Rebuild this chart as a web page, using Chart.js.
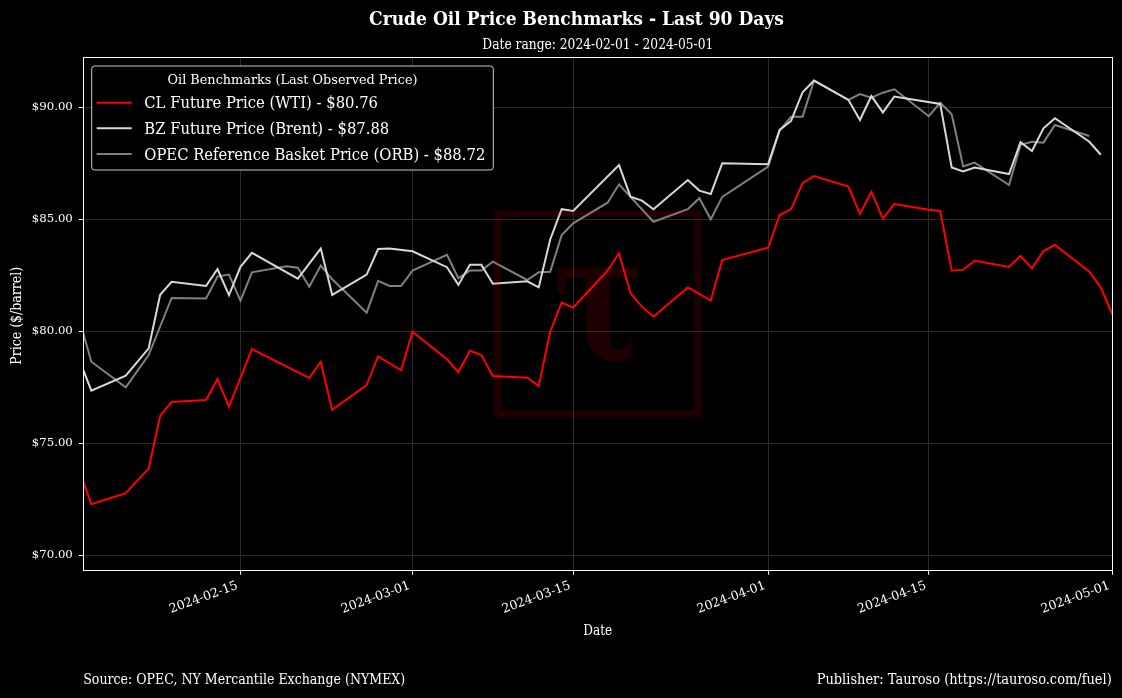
<!DOCTYPE html>
<html>
<head>
<meta charset="utf-8">
<script src="https://cdn.jsdelivr.net/npm/chart.js@4.4.1/dist/chart.umd.min.js"></script>
<style>
html,body{margin:0;padding:0;background:#000;}
canvas{display:block;}
</style>
</head>
<body>
<canvas id="c" width="1122" height="698"></canvas>
<script>
// ---------- DATA ----------
const titleText = 'Crude Oil Price Benchmarks - Last 90 Days';
const subtitleText = 'Date range: 2024-02-01 - 2024-05-01';
const legendTitle = 'Oil Benchmarks (Last Observed Price)';
const seriesNames = ['CL Future Price (WTI)', 'BZ Future Price (Brent)', 'OPEC Reference Basket Price (ORB)'];
const xAxisTitle = 'Date';
const yAxisTitle = 'Price ($/barrel)';
const footerLeft = 'Source: OPEC, NY Mercantile Exchange (NYMEX)';
const footerRight = 'Publisher: Tauroso (https://tauroso.com/fuel)';

const xTickLabels = ['2024-02-15','2024-03-01','2024-03-15','2024-04-01','2024-04-15','2024-05-01'];
const yTickValues = [70, 75, 80, 85, 90];

const wti = [
 ['2024-02-01',73.72],['2024-02-02',72.28],['2024-02-05',72.77],['2024-02-07',73.87],['2024-02-08',76.22],
 ['2024-02-09',76.84],['2024-02-12',76.93],['2024-02-13',77.87],['2024-02-14',76.63],['2024-02-16',79.20],
 ['2024-02-21',77.92],['2024-02-22',78.63],['2024-02-23',76.49],['2024-02-26',77.60],['2024-02-27',78.88],
 ['2024-02-29',78.26],['2024-03-01',79.98],['2024-03-04',78.75],['2024-03-05',78.17],['2024-03-06',79.13],
 ['2024-03-07',78.94],['2024-03-08',78.00],['2024-03-11',77.93],['2024-03-12',77.56],['2024-03-13',79.98],
 ['2024-03-14',81.28],['2024-03-15',81.05],['2024-03-18',82.71],['2024-03-19',83.48],['2024-03-20',81.70],
 ['2024-03-21',81.10],['2024-03-22',80.65],['2024-03-25',81.96],['2024-03-27',81.37],['2024-03-28',83.18],
 ['2024-04-01',83.73],['2024-04-02',85.19],['2024-04-03',85.45],['2024-04-04',86.61],['2024-04-05',86.93],
 ['2024-04-08',86.46],['2024-04-09',85.24],['2024-04-10',86.22],['2024-04-11',85.03],['2024-04-12',85.68],
 ['2024-04-15',85.42],['2024-04-16',85.37],['2024-04-17',82.71],['2024-04-18',82.74],['2024-04-19',83.15],
 ['2024-04-22',82.87],['2024-04-23',83.36],['2024-04-24',82.81],['2024-04-25',83.58],['2024-04-26',83.85],
 ['2024-04-29',82.66],['2024-04-30',81.95],['2024-05-01',80.76]
];
const brent = [
 ['2024-02-01',78.66],['2024-02-02',77.35],['2024-02-05',78.02],['2024-02-07',79.24],['2024-02-08',81.63],
 ['2024-02-09',82.21],['2024-02-12',82.02],['2024-02-13',82.78],['2024-02-14',81.61],['2024-02-15',82.88],
 ['2024-02-16',83.50],['2024-02-20',82.35],['2024-02-22',83.69],['2024-02-23',81.62],['2024-02-26',82.53],
 ['2024-02-27',83.67],['2024-02-28',83.70],['2024-03-01',83.57],['2024-03-04',82.86],['2024-03-05',82.07],
 ['2024-03-06',82.97],['2024-03-07',82.97],['2024-03-08',82.12],['2024-03-11',82.23],['2024-03-12',81.96],
 ['2024-03-13',84.10],['2024-03-14',85.45],['2024-03-15',85.37],['2024-03-19',87.42],['2024-03-20',86.01],
 ['2024-03-21',85.83],['2024-03-22',85.45],['2024-03-25',86.75],['2024-03-26',86.28],['2024-03-27',86.13],
 ['2024-03-28',87.50],['2024-04-01',87.46],['2024-04-02',88.99],['2024-04-03',89.39],['2024-04-04',90.67],
 ['2024-04-05',91.19],['2024-04-08',90.33],['2024-04-09',89.43],['2024-04-10',90.50],['2024-04-11',89.77],
 ['2024-04-12',90.48],['2024-04-16',90.15],['2024-04-17',87.31],['2024-04-18',87.14],['2024-04-19',87.31],
 ['2024-04-22',87.02],['2024-04-23',88.44],['2024-04-24',88.05],['2024-04-25',89.06],['2024-04-26',89.51],
 ['2024-04-29',88.46],['2024-04-30',87.88]
];
const orb = [
 ['2024-02-01',80.45],['2024-02-02',78.64],['2024-02-05',77.50],['2024-02-07',78.94],['2024-02-09',81.49],
 ['2024-02-12',81.46],['2024-02-13',82.44],['2024-02-14',82.53],['2024-02-15',81.37],['2024-02-16',82.63],
 ['2024-02-19',82.90],['2024-02-20',82.84],['2024-02-21',81.99],['2024-02-22',82.93],['2024-02-23',82.32],
 ['2024-02-26',80.83],['2024-02-27',82.25],['2024-02-28',82.02],['2024-02-29',82.02],['2024-03-01',82.71],
 ['2024-03-04',83.41],['2024-03-05',82.37],['2024-03-06',82.71],['2024-03-07',82.71],['2024-03-08',83.11],
 ['2024-03-11',82.29],['2024-03-12',82.63],['2024-03-13',82.66],['2024-03-14',84.30],['2024-03-15',84.82],
 ['2024-03-18',85.74],['2024-03-19',86.56],['2024-03-20',86.00],['2024-03-22',84.89],['2024-03-25',85.45],
 ['2024-03-26',85.94],['2024-03-27',85.00],['2024-03-28',86.00],['2024-04-01',87.35],['2024-04-02',88.96],
 ['2024-04-03',89.58],['2024-04-04',89.58],['2024-04-05',91.19],['2024-04-08',90.33],['2024-04-09',90.59],
 ['2024-04-10',90.43],['2024-04-11',90.65],['2024-04-12',90.80],['2024-04-15',89.60],['2024-04-16',90.20],
 ['2024-04-17',89.69],['2024-04-18',87.36],['2024-04-19',87.53],['2024-04-22',86.53],['2024-04-23',88.32],
 ['2024-04-24',88.46],['2024-04-25',88.42],['2024-04-26',89.21],['2024-04-29',88.72]
];
const seriesColors = ['#ff0000', '#d8d8d8', '#808080'];

// axis limits (days since 2024-02-01, and $/barrel)
const xLimits = [0.3, 90];
const yLimits = [69.33, 92.23];

// ---------- HELPERS ----------
const FONT = '"DejaVu Serif", serif';
const BASE = Date.UTC(2024, 1, 1);
const toDay = s => { const [y, m, d] = s.split('-').map(Number); return (Date.UTC(y, m - 1, d) - BASE) / 86400000; };
const toPoints = arr => arr.map(([d, v]) => ({ x: toDay(d), y: v }));
const xTickDays = xTickLabels.map(toDay);

const meas = document.createElement('canvas').getContext('2d');
function fitSize(text, target, weight) {
  meas.font = `${weight || 'normal'} 100px ${FONT}`;
  return 100 * target / meas.measureText(text).width;
}
const yTickSize = fitSize('$90.00', 41);
const xTickSize = fitSize('2024-02-15', 72);

function drawText(ctx, s, x, y, o) {
  ctx.save();
  ctx.font = `${o.weight || 'normal'} ${o.size}px ${FONT}`;
  ctx.fillStyle = o.color || '#ffffff';
  ctx.textAlign = o.align || 'left';
  ctx.textBaseline = 'alphabetic';
  const w = ctx.measureText(s).width;
  const sx = o.sx || (o.width ? o.width / w : 1);
  ctx.translate(x, y);
  if (o.rotate) ctx.rotate(o.rotate);
  ctx.scale(sx, 1);
  ctx.fillText(s, 0, 0);
  ctx.restore();
}

const lastVal = arr => arr[arr.length - 1][1];
const allSeries = [wti, brent, orb];

const decor = {
  id: 'decor',
  beforeDraw(chart) {
    const c = chart.ctx;
    c.save(); c.fillStyle = '#000'; c.fillRect(0, 0, chart.width, chart.height); c.restore();
  },
  afterDatasetsDraw(chart) {
    const c = chart.ctx, a = chart.chartArea;
    const cx = (a.left + a.right) / 2, cy = (a.top + a.bottom) / 2;
    // watermark
    c.save();
    c.strokeStyle = 'rgba(255,0,0,0.12)';
    c.fillStyle = 'rgba(255,0,0,0.12)';
    c.lineWidth = 7;
    c.strokeRect(cx - 100, cy - 100, 200, 200);
    c.font = `bold 100px ${FONT}`;
    const m = c.measureText('τ');
    const gh = m.actualBoundingBoxAscent + m.actualBoundingBoxDescent;
    const gw = m.actualBoundingBoxLeft + m.actualBoundingBoxRight;
    const ky = 100 / gh, kx = 82 / gw;
    c.translate(cx, cy + 3);
    c.scale(kx, ky);
    c.textBaseline = 'alphabetic';
    c.fillText('τ', -gw / 2 + m.actualBoundingBoxLeft, (m.actualBoundingBoxAscent - m.actualBoundingBoxDescent) / 2);
    c.restore();
    // frame
    c.save();
    c.strokeStyle = '#ffffff';
    c.lineWidth = 1;
    c.strokeRect(Math.round(a.left) + 0.5, Math.round(a.top) + 0.5, Math.round(a.right) - Math.round(a.left), Math.round(a.bottom) - Math.round(a.top));
    c.restore();
  },
  afterDraw(chart) {
    const c = chart.ctx, a = chart.chartArea;
    // titles
    drawText(c, titleText, 576.5, 24.5, { size: 18, weight: 'bold', width: 415, align: 'center' });
    drawText(c, subtitleText, (a.left + a.right) / 2, 49, { size: 14.6, width: 231, align: 'center' });
    // axis titles
    drawText(c, xAxisTitle, (a.left + a.right) / 2, 635, { size: 14.6, width: 29, align: 'center' });
    drawText(c, yAxisTitle, 20.5, (a.top + a.bottom) / 2 + 2, { size: 14.6, width: 98, align: 'center', rotate: -Math.PI / 2 });
    // footers
    drawText(c, footerLeft, 83.2, 684, { size: 14.6, width: 322, align: 'left' });
    drawText(c, footerRight, 1111.7, 684, { size: 14.6, width: 295, align: 'right' });
    // legend
    const bx = 91.7, by = 66, bw = 401.6, bh = 104, r = 3;
    c.save();
    c.beginPath();
    c.moveTo(bx + r, by); c.lineTo(bx + bw - r, by); c.arcTo(bx + bw, by, bx + bw, by + r, r);
    c.lineTo(bx + bw, by + bh - r); c.arcTo(bx + bw, by + bh, bx + bw - r, by + bh, r);
    c.lineTo(bx + r, by + bh); c.arcTo(bx, by + bh, bx, by + bh - r, r);
    c.lineTo(bx, by + r); c.arcTo(bx, by, bx + r, by, r);
    c.closePath();
    c.fillStyle = '#000000'; c.fill();
    c.strokeStyle = '#cccccc'; c.lineWidth = 1; c.stroke();
    c.restore();
    drawText(c, legendTitle, bx + bw / 2, 84, { size: 13.7, width: 250, align: 'center' });
    const ds = chart.data.datasets;
    c.save();
    c.font = `normal 16.5px ${FONT}`;
    const longest = Math.max(...ds.map(d => c.measureText(d.label).width));
    c.restore();
    const sx = 341 / longest;
    const lineYs = [102.7, 128.3, 154];
    ds.forEach((d, i) => {
      c.save();
      c.strokeStyle = d.borderColor; c.lineWidth = 2;
      c.beginPath(); c.moveTo(96.7, lineYs[i]); c.lineTo(131.7, lineYs[i]); c.stroke();
      c.restore();
      drawText(c, d.label, 144.3, lineYs[i] + 5.6, { size: 16.5, sx: sx, align: 'left' });
    });
  }
};

const gridCommon = { color: '#2a2a2a', tickColor: '#ffffff', tickLength: 4.5, lineWidth: 1 };

new Chart(document.getElementById('c'), {
  type: 'line',
  data: {
    datasets: allSeries.map((s, i) => ({
      label: `${seriesNames[i]} - $${lastVal(s).toFixed(2)}`,
      data: toPoints(s),
      borderColor: seriesColors[i],
      backgroundColor: seriesColors[i],
      borderWidth: 2,
      pointRadius: 0,
      tension: 0,
      fill: false,
      clip: 0
    }))
  },
  options: {
    responsive: false,
    animation: false,
    devicePixelRatio: 1,
    layout: { padding: { left: 0, top: 57.3, right: 1122 - 1112.3, bottom: 0 } },
    plugins: { legend: { display: false }, tooltip: { enabled: false }, title: { display: false } },
    scales: {
      x: {
        type: 'linear', min: xLimits[0], max: xLimits[1],
        afterFit: s => { s.height = 698 - 570.3; },
        afterBuildTicks: s => { s.ticks = xTickDays.map(v => ({ value: v })); },
        ticks: {
          autoSkip: false, minRotation: 20, maxRotation: 20, padding: 3.5, labelOffset: -3,
          color: '#ffffff', font: { family: 'DejaVu Serif', size: xTickSize },
          callback: (v, i) => xTickLabels[i]
        },
        grid: gridCommon,
        border: { display: false }
      },
      y: {
        type: 'linear', min: yLimits[0], max: yLimits[1],
        afterFit: s => { s.width = 83.3; },
        afterBuildTicks: s => { s.ticks = yTickValues.map(v => ({ value: v })); },
        ticks: {
          padding: 6, color: '#ffffff', font: { family: 'DejaVu Serif', size: yTickSize },
          callback: v => '$' + Number(v).toFixed(2)
        },
        grid: gridCommon,
        border: { display: false }
      }
    }
  },
  plugins: [decor]
});
</script>
</body>
</html>
